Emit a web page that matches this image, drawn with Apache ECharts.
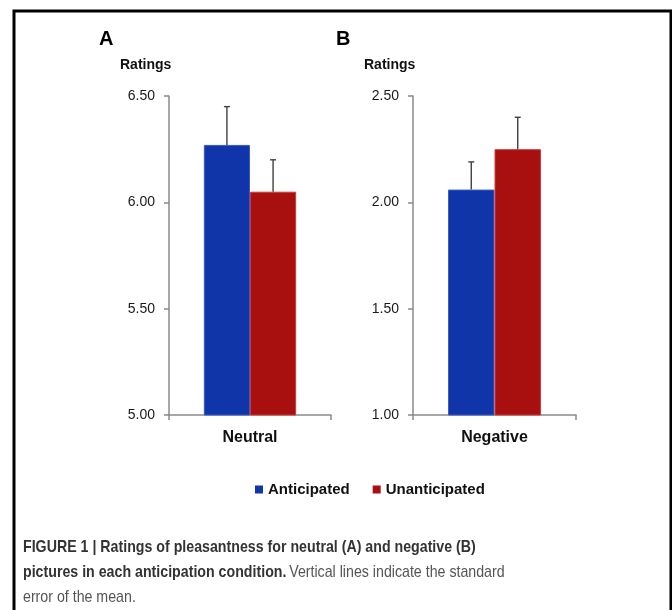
<!DOCTYPE html>
<html>
<head>
<meta charset="utf-8">
<script src="https://cdn.jsdelivr.net/npm/echarts@6/dist/echarts.min.js"></script>
<style>
html,body{margin:0;padding:0;background:#fff;}
#chart{width:672px;height:610px;}
</style>
</head>
<body>
<div id="chart"></div>
<script>
// ---- data ----
var seriesNames = ['Anticipated', 'Unanticipated'];
var categoriesA = ['Neutral'];
var categoriesB = ['Negative'];
var anticipatedA = [6.27];
var unanticipatedA = [6.05];
var anticipatedSeA = [0.18];
var unanticipatedSeA = [0.15];
var anticipatedB = [2.06];
var unanticipatedB = [2.25];
var anticipatedSeB = [0.13];
var unanticipatedSeB = [0.15];
var yTicksA = [5.0, 5.5, 6.0, 6.5];
var yTicksB = [1.0, 1.5, 2.0, 2.5];

var BLUE = '#1035a8';
var RED = '#a81010';
var BLUE_EDGE = '#3a5ac8';
var RED_EDGE = '#cc3a3a';
var CAT_GAP = 0.43;

function errData(antic, anticSe, unantic, unanticSe) {
  var d = [];
  for (var i = 0; i < antic.length; i++) {
    d.push([i, antic[i], anticSe[i], -1]);
    d.push([i, unantic[i], unanticSe[i], 1]);
  }
  return d;
}

function renderErr(params, api) {
  var cat = api.value(0), val = api.value(1), se = api.value(2), side = api.value(3);
  var band = api.size([1, 0])[0];
  var off = side * band * (1 - CAT_GAP) / 4;
  var base = api.coord([cat, val]);
  var top = api.coord([cat, val + se]);
  var x = base[0] + off;
  var cap = 3;
  var st = {stroke: '#404040', lineWidth: 1.4};
  return {
    type: 'group',
    children: [
      {type: 'line', shape: {x1: x, y1: base[1], x2: x, y2: top[1]}, style: st},
      {type: 'line', shape: {x1: x - cap, y1: top[1], x2: x + cap, y2: top[1]}, style: st}
    ]
  };
}

function yAxis(idx, ticks) {
  return {
    type: 'value', gridIndex: idx,
    min: ticks[0], max: ticks[ticks.length - 1], interval: ticks[1] - ticks[0],
    splitLine: {show: false},
    axisLine: {show: true, lineStyle: {color: '#8a8a8a', width: 1.5}},
    axisTick: {show: true, length: 5, lineStyle: {color: '#8a8a8a', width: 1.5}},
    axisLabel: {margin: 14, color: '#1a1a1a', fontSize: 14, fontFamily: 'Liberation Sans',
      formatter: function (v) { return v.toFixed(2); }}
  };
}
function xAxis(idx, cats) {
  return {
    type: 'category', gridIndex: idx, data: cats,
    axisLine: {show: true, lineStyle: {color: '#8a8a8a', width: 1.5}},
    axisTick: {show: true, length: 5, lineStyle: {color: '#8a8a8a', width: 1.5}},
    axisLabel: {margin: 15, color: '#111', fontSize: 16, fontWeight: 'bold', fontFamily: 'Liberation Sans'}
  };
}
function bar(name, color, edge, idx, data) {
  return {
    name: name, type: 'bar', xAxisIndex: idx, yAxisIndex: idx, data: data,
    barGap: '0%', barCategoryGap: (CAT_GAP * 100) + '%',
    itemStyle: {color: color, borderColor: edge, borderWidth: 1}, emphasis: {disabled: true}
  };
}

var capStyleB = {fontFamily: 'Liberation Sans', fontWeight: 'bold', fontSize: 17, lineHeight: 25, fill: '#333'};
var capStyleN = {fontFamily: 'Liberation Sans', fontSize: 17, lineHeight: 25, fill: '#555'};

var chart = echarts.init(document.getElementById('chart'), null, {renderer: 'canvas'});
chart.setOption({
  animation: false,
  backgroundColor: '#fff',
  grid: [
    {left: 169, top: 96, width: 162, height: 319},
    {left: 413, top: 96, width: 163, height: 319}
  ],
  xAxis: [xAxis(0, categoriesA), xAxis(1, categoriesB)],
  yAxis: [yAxis(0, yTicksA), yAxis(1, yTicksB)],
  legend: {
    data: seriesNames, left: 250, top: 477,
    icon: 'rect', itemWidth: 8, itemHeight: 8, itemGap: 23,
    itemStyle: {borderWidth: 0},
    textStyle: {fontSize: 15, fontWeight: 'bold', color: '#111', fontFamily: 'Liberation Sans'}
  },
  series: [
    bar(seriesNames[0], BLUE, BLUE_EDGE, 0, anticipatedA),
    bar(seriesNames[1], RED, RED_EDGE, 0, unanticipatedA),
    bar(seriesNames[0], BLUE, BLUE_EDGE, 1, anticipatedB),
    bar(seriesNames[1], RED, RED_EDGE, 1, unanticipatedB),
    {type: 'custom', xAxisIndex: 0, yAxisIndex: 0, renderItem: renderErr, z: 5,
      data: errData(anticipatedA, anticipatedSeA, unanticipatedA, unanticipatedSeA)},
    {type: 'custom', xAxisIndex: 1, yAxisIndex: 1, renderItem: renderErr, z: 5,
      data: errData(anticipatedB, anticipatedSeB, unanticipatedB, unanticipatedSeB)}
  ],
  graphic: [
    {type: 'rect', shape: {x: 14, y: 11, width: 657, height: 700},
      style: {fill: 'none', stroke: '#000', lineWidth: 3}, silent: true},
    {type: 'text', left: 99, top: 29, style: {text: 'A', font: 'bold 20px "Liberation Sans"', fill: '#000'}},
    {type: 'text', left: 336, top: 29, style: {text: 'B', font: 'bold 20px "Liberation Sans"', fill: '#000'}},
    {type: 'text', left: 120, top: 58, style: {text: 'Ratings', font: 'bold 14px "Liberation Sans"', fill: '#111'}},
    {type: 'text', left: 364, top: 58, style: {text: 'Ratings', font: 'bold 14px "Liberation Sans"', fill: '#111'}},
    {type: 'text', x: 23, y: 535, scaleX: 0.835, scaleY: 1, originX: 0, originY: 0, style: {
      x: 0, y: 0, verticalAlign: 'top',
      text: '{b|FIGURE 1 | Ratings of pleasantness for neutral (A) and negative (B)}\n' +
            '{b|pictures in each anticipation condition.} {n|Vertical lines indicate the standard}\n' +
            '{n|error of the mean.}',
      rich: {b: capStyleB, n: capStyleN}
    }}
  ]
});
</script>
</body>
</html>
